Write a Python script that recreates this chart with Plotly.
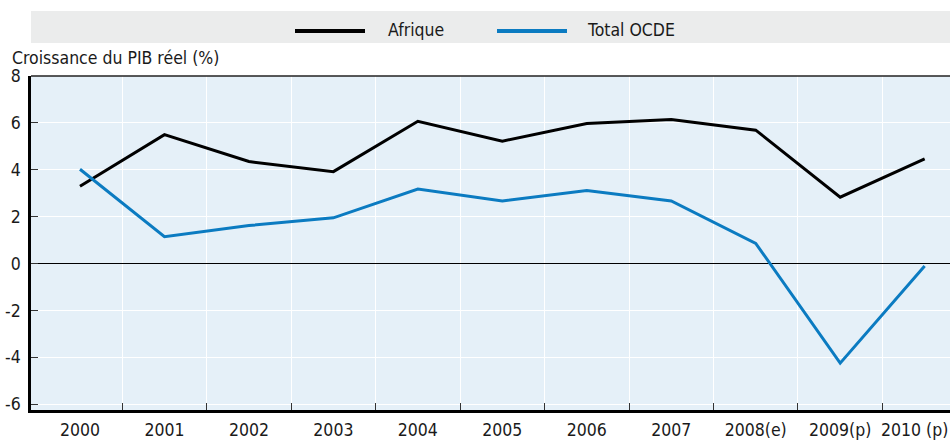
import plotly.graph_objects as go

years = ["2000", "2001", "2002", "2003", "2004", "2005", "2006", "2007", "2008(e)", "2009(p)", "2010 (p)"]
afrique = [3.3, 5.5, 4.35, 3.92, 6.07, 5.22, 5.97, 6.14, 5.69, 2.83, 4.46]
ocde = [4.02, 1.14, 1.62, 1.95, 3.18, 2.67, 3.11, 2.67, 0.86, -4.25, -0.11]
yticks = [-6, -4, -2, 0, 2, 4, 6, 8]
ytick_labels = ["-6", "-4", "-2", "0", "2", "4", "6", "8"]
series_names = ["Afrique", "Total OCDE"]
series_colors = ["#000000", "#0b7bc1"]
y_title = "Croissance du PIB réel (%)"

FONT = "DejaVu Sans Condensed, DejaVu Sans, sans-serif"
FS = 17.5
xpos = list(range(len(years)))

fig = go.Figure()
for name, vals, col in zip(series_names, [afrique, ocde], series_colors):
    fig.add_trace(go.Scatter(x=xpos, y=vals, mode="lines", name=name,
                             line=dict(color=col, width=3), showlegend=False))

W, H = 950, 440
L, R, T, B = 31, 0, 76, 30
pw, ph = W - L - R, H - T - B

def px_x(p):
    return (p - L) / pw

def px_y(p):
    return (H - B - p) / ph

shapes = [
    dict(type="rect", xref="paper", yref="paper", x0=0, x1=1, y0=px_y(43), y1=px_y(11),
         fillcolor="#ebecec", line=dict(width=0), layer="below"),
    dict(type="line", xref="paper", yref="paper", x0=0, x1=1, y0=1, y1=1,
         line=dict(color="#222222", width=1.5)),
]
annotations = [
    dict(text=y_title, xref="paper", yref="paper", x=px_x(10), y=px_y(58),
         xanchor="left", yanchor="middle", showarrow=False,
         font=dict(family=FONT, size=FS, color="#1a1a1a")),
]
leg = [(295, 365, 386), (497, 567, 585)]
for (x0, x1, tx), name, col in zip(leg, series_names, series_colors):
    shapes.append(dict(type="line", xref="paper", yref="paper", x0=px_x(x0), x1=px_x(x1),
                       y0=px_y(31), y1=px_y(31), line=dict(color=col, width=4)))
    annotations.append(dict(text=name, xref="paper", yref="paper", x=px_x(tx), y=px_y(30),
                            xanchor="left", yanchor="middle", showarrow=False,
                            font=dict(family=FONT, size=FS, color="#1a1a1a")))

# last category label kept inside the page (right-aligned at the edge)
tick_text = years[:-1] + [""]
annotations.append(dict(text=years[-1], xref="paper", yref="paper", x=1, y=px_y(430),
                        xanchor="right", yanchor="middle", showarrow=False,
                        font=dict(family=FONT, size=FS, color="#1a1a1a")))

fig.update_layout(
    width=W, height=H,
    margin=dict(l=L, r=R, t=T, b=B, pad=0),
    paper_bgcolor="white",
    plot_bgcolor="#e5f0f8",
    font=dict(family=FONT, size=FS, color="#1a1a1a"),
    shapes=shapes,
    annotations=annotations,
    xaxis=dict(
        range=[-0.58, 10.3],
        tickmode="array", tickvals=xpos, ticktext=tick_text,
        showgrid=False, ticks="",
        showline=True, linecolor="black", linewidth=2.5,
        zeroline=False, automargin=False,
        ticklabelstandoff=2, ticklabeloverflow="allow",
        minor=dict(tickmode="array", tickvals=[i + 0.5 for i in range(10)],
                   showgrid=True, gridcolor="white", gridwidth=1.2,
                   ticks="inside", ticklen=7, tickcolor="#333333", tickwidth=1.2),
        fixedrange=True,
    ),
    yaxis=dict(
        range=[-6.25, 8],
        tickmode="array", tickvals=yticks, ticktext=ytick_labels,
        showgrid=True, gridcolor="white", gridwidth=1.2,
        ticks="inside", ticklen=7, tickcolor="#333333", tickwidth=1.2,
        showline=True, linecolor="black", linewidth=2.5,
        zeroline=True, zerolinecolor="black", zerolinewidth=1.2,
        ticklabelstandoff=4, automargin=False,
        fixedrange=True,
    ),
)

fig.write_html("out.html", config={"displayModeBar": False},
               post_script="document.body.style.margin='0';")
